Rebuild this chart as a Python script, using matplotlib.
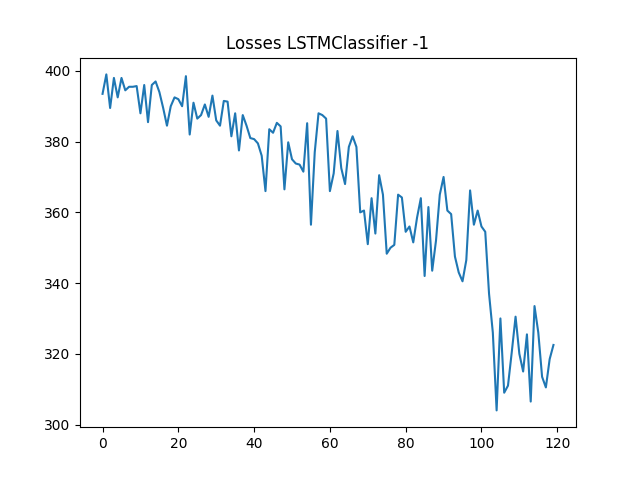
import matplotlib
matplotlib.use("Agg")
import matplotlib.pyplot as plt

losses = [
    393.5, 399.0, 389.5, 398.0, 392.5, 398.0, 394.5, 395.5, 395.5, 395.7,
    388.0, 396.0, 385.5, 396.0, 397.0, 394.0, 389.5, 384.5, 390.0, 392.5,
    392.0, 390.0, 398.5, 382.0, 391.0, 386.5, 387.5, 390.5, 387.0, 393.0,
    386.0, 384.5, 391.5, 391.3, 381.5, 388.0, 377.5, 387.5, 384.5, 381.0,
    380.7, 379.5, 376.0, 366.0, 383.5, 382.5, 385.3, 384.3, 366.5, 379.8,
    375.0, 373.8, 373.5, 371.5, 385.2, 356.5, 377.0, 388.0, 387.5, 386.5,
    366.0, 371.0, 383.0, 372.5, 368.0, 378.5, 381.5, 378.5, 360.0, 360.5,
    351.0, 364.0, 354.0, 370.5, 365.0, 348.3, 350.0, 350.8, 365.0, 364.2,
    354.5, 356.0, 351.5, 358.5, 364.0, 342.0, 361.5, 343.5, 352.0, 365.0,
    370.0, 360.5, 359.5, 347.5, 343.0, 340.5, 346.5, 366.2, 356.5, 360.5,
    356.0, 354.5, 337.0, 326.0, 304.0, 330.0, 309.0, 311.0, 320.5, 330.5,
    320.0, 315.0, 325.5, 306.5, 333.5, 326.0, 313.5, 310.5, 318.5, 322.5,
]

fig, ax = plt.subplots(figsize=(6.4, 4.8), dpi=100)
ax.plot(range(len(losses)), losses)
ax.set_title("Losses LSTMClassifier -1")
fig.savefig("out.png")
